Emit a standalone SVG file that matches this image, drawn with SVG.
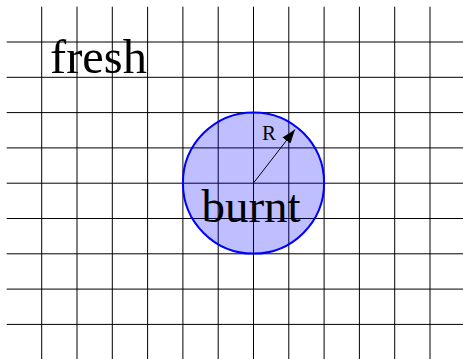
<svg xmlns="http://www.w3.org/2000/svg" width="463" height="359" viewBox="0 0 463 359">
<style>
.grid line{stroke:#000;stroke-width:1}
.lbl{font-family:"Liberation Serif","Times New Roman",serif;fill:#000}
</style>
<defs>
<marker id="ah" viewBox="0 0 14 10" refX="14" refY="5" markerWidth="14" markerHeight="10" markerUnits="userSpaceOnUse" orient="auto"><path d="M0,0 L14,5 L0,10 Z" fill="#000"/></marker>
</defs>
<rect width="463" height="359" fill="#fff"/>
<g id="grid" class="grid">
<line x1="41.7" y1="6.7" x2="41.7" y2="359"/>
<line x1="77" y1="6.7" x2="77" y2="359"/>
<line x1="112.3" y1="6.7" x2="112.3" y2="359"/>
<line x1="147.6" y1="6.7" x2="147.6" y2="359"/>
<line x1="182.9" y1="6.7" x2="182.9" y2="359"/>
<line x1="218.2" y1="6.7" x2="218.2" y2="359"/>
<line x1="253.5" y1="6.7" x2="253.5" y2="359"/>
<line x1="288.8" y1="6.7" x2="288.8" y2="359"/>
<line x1="324.1" y1="6.7" x2="324.1" y2="359"/>
<line x1="359.4" y1="6.7" x2="359.4" y2="359"/>
<line x1="394.7" y1="6.7" x2="394.7" y2="359"/>
<line x1="430" y1="6.7" x2="430" y2="359"/>
<line x1="6.7" y1="42" x2="463" y2="42"/>
<line x1="6.7" y1="77.3" x2="463" y2="77.3"/>
<line x1="6.7" y1="112.6" x2="463" y2="112.6"/>
<line x1="6.7" y1="147.9" x2="463" y2="147.9"/>
<line x1="6.7" y1="183.2" x2="463" y2="183.2"/>
<line x1="6.7" y1="218.5" x2="463" y2="218.5"/>
<line x1="6.7" y1="253.8" x2="463" y2="253.8"/>
<line x1="6.7" y1="289.1" x2="463" y2="289.1"/>
<line x1="6.7" y1="324.4" x2="463" y2="324.4"/>
</g>
<g id="fresh">
<text class="lbl" x="50" y="72.7" font-size="48.5">fresh</text>
</g>
<g id="burnt">
<circle cx="253.5" cy="183" r="70.6" fill="#0000ff" fill-opacity="0.25" stroke="#0000ff" stroke-width="2"/>
<text class="lbl" x="251" y="221.7" font-size="47" text-anchor="middle">burnt</text>
</g>
<g id="connectors">
<line x1="253.5" y1="183" x2="295" y2="129.5" stroke="#000" stroke-width="1" marker-end="url(#ah)"/>
<text class="lbl" x="269" y="140" font-size="21" text-anchor="middle">R</text>
</g>
</svg>
